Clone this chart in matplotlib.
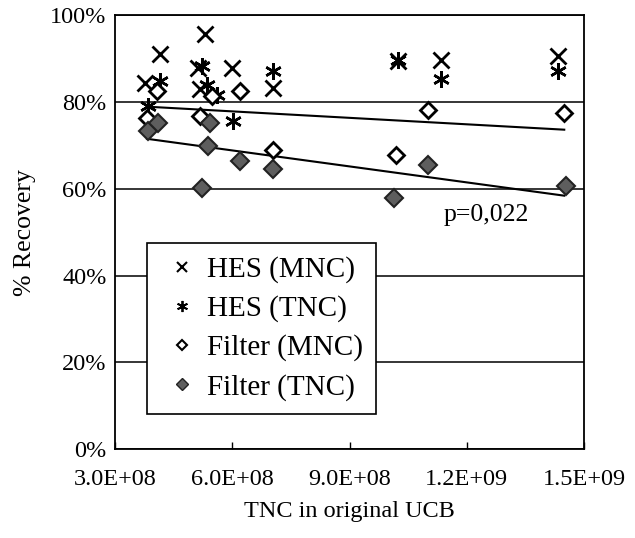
import numpy as np
import matplotlib.pyplot as plt
from matplotlib.lines import Line2D
from matplotlib.ticker import FuncFormatter

plt.rcParams['font.family'] = ['Liberation Serif', 'DejaVu Serif']

# TNC in original UCB (cells) and % recovery
hes_mnc_x = [3.77e8, 4.15e8, 5.13e8, 5.18e8, 5.31e8, 6.00e8, 7.03e8, 1.023e9, 1.133e9, 1.433e9]
hes_mnc_y = [84.4, 91.0, 87.8, 83.0, 95.6, 87.8, 83.2, 89.4, 89.7, 90.6]

hes_tnc_x = [3.85e8, 4.15e8, 5.23e8, 5.36e8, 5.62e8, 6.03e8, 7.03e8, 1.023e9, 1.133e9, 1.433e9]
hes_tnc_y = [79.1, 84.8, 88.3, 83.9, 81.6, 75.6, 87.1, 89.6, 85.3, 87.1]

filt_mnc_x = [3.82e8, 4.08e8, 5.18e8, 5.49e8, 6.21e8, 7.05e8, 1.018e9, 1.100e9, 1.449e9]
filt_mnc_y = [76.3, 82.5, 76.8, 81.4, 82.5, 69.0, 67.8, 78.2, 77.5]

filt_tnc_x = [3.85e8, 4.10e8, 5.23e8, 5.38e8, 5.44e8, 6.21e8, 7.05e8, 1.013e9, 1.100e9, 1.454e9]
filt_tnc_y = [73.3, 75.2, 60.2, 69.9, 75.2, 66.4, 64.6, 57.9, 65.5, 60.7]

# trend lines as drawn in the figure
trend_x = [3.82e8, 1.449e9]
trend_mnc = [78.9, 73.6]
trend_tnc = [71.5, 58.4]

xticks = [3.0e8, 6.0e8, 9.0e8, 1.2e9, 1.5e9]
xtick_labels = ['3.0E+08', '6.0E+08', '9.0E+08', '1.2E+09', '1.5E+09']
yticks = [0, 20, 40, 60, 80, 100]

fig = plt.figure(figsize=(6.35, 5.38), dpi=100)
ax = fig.add_axes([0.181, 0.165, 0.739, 0.807])

asterisk = (6, 2, 0)
ax.plot(hes_mnc_x, hes_mnc_y, ls='none', marker='x', ms=11, mew=2, color='black', zorder=3)
ax.plot(hes_tnc_x, hes_tnc_y, ls='none', marker=asterisk, ms=12, mew=1.8, color='black', zorder=3)
ax.plot(filt_mnc_x, filt_mnc_y, ls='none', marker='D', ms=8, mew=2, mfc='white', mec='black', zorder=3)
ax.plot(filt_tnc_x, filt_tnc_y, ls='none', marker='D', ms=9, mew=1.5, mfc='#5e5e5e', mec='#222222', zorder=3)

ax.plot(trend_x, trend_mnc, color='black', lw=1.5, zorder=2)
ax.plot(trend_x, trend_tnc, color='black', lw=1.5, zorder=2)

ax.set_xlim(3.0e8, 1.5e9)
ax.set_ylim(0, 100)
ax.set_xticks(xticks)
ax.set_xticklabels(xtick_labels)
ax.set_yticks(yticks)
ax.yaxis.set_major_formatter(FuncFormatter(lambda v, p: f'{v:.0f}%'))
ax.yaxis.grid(True, color='black', lw=1.1)
ax.set_axisbelow(True)
ax.tick_params(axis='x', direction='in', length=5, width=1, labelsize=17.5, pad=14)
ax.tick_params(axis='y', length=0, labelsize=17.5, pad=6)
for s in ax.spines.values():
    s.set_linewidth(1.3)

ax.set_xlabel('TNC in original UCB', fontsize=17.5, labelpad=8)
ax.set_ylabel('% Recovery', fontsize=18.5, labelpad=10)

ax.text(1.249e9, 53.9, 'p=0,022', fontsize=18.5, ha='center', va='center')

handles = [
    Line2D([], [], ls='none', marker='x', ms=7, mew=1.5, color='black'),
    Line2D([], [], ls='none', marker=asterisk, ms=8, mew=1.3, color='black'),
    Line2D([], [], ls='none', marker='D', ms=5, mew=1.5, mfc='white', mec='black'),
    Line2D([], [], ls='none', marker='D', ms=6, mew=1, mfc='#5e5e5e', mec='#222222'),
]
labels = ['HES (MNC)', 'HES (TNC)', 'Filter (MNC)', 'Filter (TNC)']
leg = ax.legend(handles, labels, loc='upper left', bbox_to_anchor=(0.068, 0.475),
                fontsize=21, frameon=True, fancybox=False, framealpha=1,
                edgecolor='black', handlelength=1.5, handletextpad=0.1,
                borderpad=0.45, labelspacing=0.42, borderaxespad=0)
leg.get_frame().set_linewidth(1.2)

fig.savefig('out.png', dpi=100)
